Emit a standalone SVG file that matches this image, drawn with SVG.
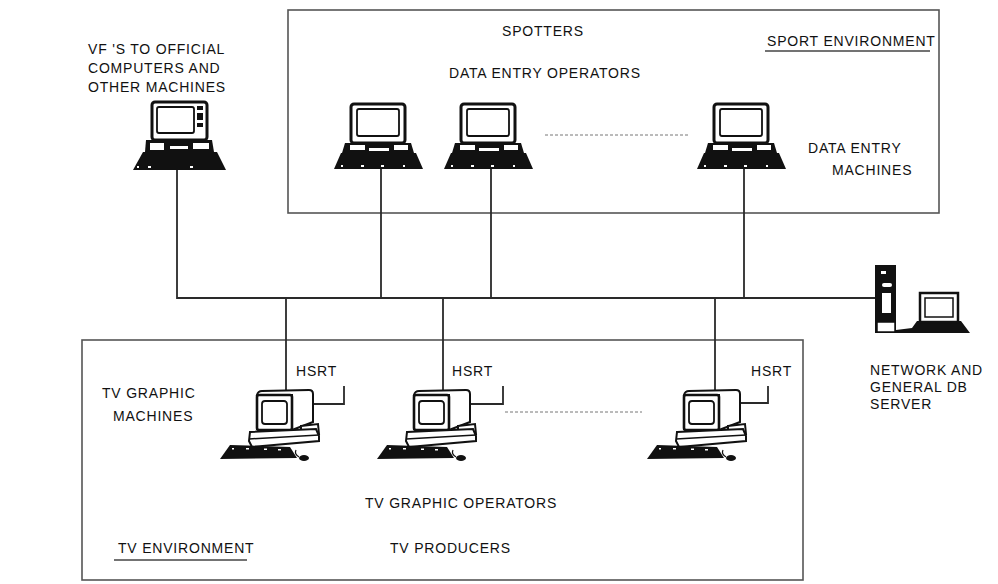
<svg xmlns="http://www.w3.org/2000/svg" width="998" height="584" viewBox="0 0 998 584">
  <style>
    .lbl { font-family: "Liberation Sans", Arial, sans-serif; font-size: 14px; letter-spacing: 0.8px; fill: #111; }
    .env { fill: none; stroke: #555; stroke-width: 1.6; }
    .wire { fill: none; stroke: #2a2a2a; stroke-width: 1.8; }
    .dots { fill: none; stroke: #777; stroke-width: 1; stroke-dasharray: 3 2; }
    .ul { stroke: #444; stroke-width: 1.4; }
    .ink { fill: #111; }
    .out { fill: #fff; stroke: #111; }
  </style>
  <defs>
    <!-- desktop workstation, origin at the centre of the cable entry, y absolute -->
    <g id="desk">
      <rect class="out" x="-30" y="104" width="54" height="39" rx="3" stroke-width="3"/>
      <rect class="out" x="-24" y="109" width="42" height="27" rx="2" stroke-width="1.8"/>
      <path class="ink" d="M-36,143 L30,143 L33,153 L-39,153 Z"/>
      <rect x="-31" y="145" width="15" height="5" fill="#fff"/>
      <rect x="-12" y="148" width="20" height="3" fill="#fff"/>
      <rect x="13" y="145" width="14" height="5" fill="#fff"/>
      <path class="ink" d="M-40,153 L35,153 L42,169 L-47,169 Z"/>
      <g fill="#fff">
        <rect x="-40" y="165" width="2" height="2"/>
        <rect x="-20" y="165" width="3" height="2"/>
        <rect x="0" y="165" width="3" height="2"/>
        <rect x="22" y="165" width="2" height="2"/>
      </g>
    </g>
    <!-- graphics workstation, origin at the top of the monitor cabinet -->
    <g id="tvpc">
      <path class="out" stroke-width="2" d="M-29,3 Q-28,-1 -24,-1 L23,-2 Q27,-2 27,2 L27,30 L6,38 L6,3 Z"/>
      <rect class="out" x="-29" y="3" width="35" height="35" rx="2" stroke-width="2.6"/>
      <rect class="out" x="-24" y="9" width="25" height="23" rx="3" stroke-width="1.8"/>
      <path class="out" stroke-width="2" d="M15,34 L32,32 L33,42 L15,44 Z"/>
      <path class="out" stroke-width="2" d="M-36,40 L30,37 L33,44 L33,49 L-34,55 L-37,49 Z"/>
      <path fill="none" stroke="#111" stroke-width="1.5" d="M-37,47 L33,43"/>
      <path class="ink" d="M-56,53 L4,55 L11,66 L-66,67 Z"/>
      <g fill="#fff">
        <rect x="-54" y="56" width="2" height="1.5"/>
        <rect x="-40" y="56" width="3" height="1.5"/>
        <rect x="-22" y="56.5" width="3" height="1.5"/>
        <rect x="-8" y="57" width="3" height="1.5"/>
      </g>
      <ellipse class="ink" cx="18" cy="66" rx="5" ry="3"/>
      <path fill="none" stroke="#111" stroke-width="1.2" d="M13,65 Q8,62 10,58"/>
    </g>
  </defs>

  <!-- environment frames -->
  <g id="sport-environment">
    <rect class="env" x="288" y="10" width="651" height="203"/>
    <text class="lbl" x="767" y="46">SPORT ENVIRONMENT</text>
    <line class="ul" x1="765" y1="51" x2="930" y2="51"/>
    <text class="lbl" x="502" y="36">SPOTTERS</text>
    <text class="lbl" x="449" y="78">DATA ENTRY OPERATORS</text>
    <text class="lbl" x="808" y="153">DATA ENTRY</text>
    <text class="lbl" x="832" y="175">MACHINES</text>
  </g>
  <g id="tv-environment">
    <rect class="env" x="82" y="340" width="721" height="240"/>
    <text class="lbl" x="102" y="398">TV GRAPHIC</text>
    <text class="lbl" x="113" y="421">MACHINES</text>
    <text class="lbl" x="365" y="508">TV GRAPHIC OPERATORS</text>
    <text class="lbl" x="118" y="553">TV ENVIRONMENT</text>
    <line class="ul" x1="114" y1="560" x2="247" y2="560"/>
    <text class="lbl" x="390" y="553">TV PRODUCERS</text>
  </g>

  <!-- network cabling -->
  <g id="connectors">
    <path class="wire" d="M177,168 V298 H875"/>
    <path class="wire" d="M381,168 V298"/>
    <path class="wire" d="M491,168 V298"/>
    <path class="wire" d="M744,168 V298"/>
    <path class="wire" d="M286,298 V392"/>
    <path class="wire" d="M443,298 V392"/>
    <path class="wire" d="M715,298 V392"/>
    <path class="wire" d="M314,404 H344 V386"/>
    <path class="wire" d="M471,404 H503 V386"/>
    <path class="wire" d="M740,403 H768 V386"/>
    <line class="dots" x1="545" y1="135" x2="688" y2="135"/>
    <line class="dots" x1="505" y1="412" x2="642" y2="412"/>
  </g>

  <!-- official computers -->
  <g id="official-pc">
    <rect class="out" x="152" y="102" width="55" height="38" rx="3" stroke-width="3"/>
    <rect class="out" x="157" y="107" width="37" height="26" rx="2" stroke-width="1.8"/>
    <g fill="#111">
      <rect x="197" y="106" width="6" height="4"/>
      <rect x="197" y="113" width="6" height="7"/>
      <rect x="197" y="123" width="6" height="4"/>
    </g>
    <path class="ink" d="M146,140 L212,140 L214,152 L145,152 Z"/>
    <rect x="150" y="143" width="14" height="7" fill="#fff"/>
    <rect x="170" y="146" width="18" height="3" fill="#fff"/>
    <rect x="193" y="143" width="16" height="6" fill="#fff"/>
    <path class="ink" d="M143,152 L217,152 L226,170 L133,170 Z"/>
    <g fill="#fff">
      <rect x="137" y="166" width="2" height="2"/>
      <rect x="148" y="166" width="3" height="2"/>
      <rect x="190" y="166" width="3" height="2"/>
    </g>
    <text class="lbl" x="88" y="54">VF 'S TO OFFICIAL</text>
    <text class="lbl" x="88" y="73">COMPUTERS AND</text>
    <text class="lbl" x="88" y="92">OTHER MACHINES</text>
  </g>

  <!-- data entry machines -->
  <g id="entry-pc-1"><use href="#desk" x="381"/></g>
  <g id="entry-pc-2"><use href="#desk" x="491"/></g>
  <g id="entry-pc-3"><use href="#desk" x="744"/></g>

  <!-- TV graphic machines -->
  <g id="tv-pc-1">
    <use href="#tvpc" transform="translate(286,392)"/>
    <text class="lbl" x="296" y="376">HSRT</text>
  </g>
  <g id="tv-pc-2">
    <use href="#tvpc" transform="translate(443,392)"/>
    <text class="lbl" x="452" y="376">HSRT</text>
  </g>
  <g id="tv-pc-3">
    <use href="#tvpc" transform="translate(713,392)"/>
    <text class="lbl" x="751" y="376">HSRT</text>
  </g>

  <!-- network and general DB server -->
  <g id="server">
    <rect class="ink" x="875" y="265" width="21" height="68"/>
    <rect x="881" y="271" width="5" height="3" fill="#fff"/>
    <rect x="882" y="283" width="10" height="4" rx="2" fill="#fff"/>
    <rect x="882" y="293" width="9" height="20" fill="#fff"/>
    <rect x="877" y="322" width="18" height="10" fill="#fff" stroke="#111" stroke-width="1.5"/>
    <path class="ink" d="M896,333 L970,333 L961,321 L917,321 L912,328 L896,330 Z"/>
    <rect class="out" x="920" y="293" width="38" height="29" stroke-width="2.5"/>
    <rect class="out" x="925" y="298" width="28" height="19" stroke-width="1.5"/>
    <text class="lbl" x="870" y="375">NETWORK AND</text>
    <text class="lbl" x="870" y="392">GENERAL DB</text>
    <text class="lbl" x="870" y="409">SERVER</text>
  </g>
</svg>
